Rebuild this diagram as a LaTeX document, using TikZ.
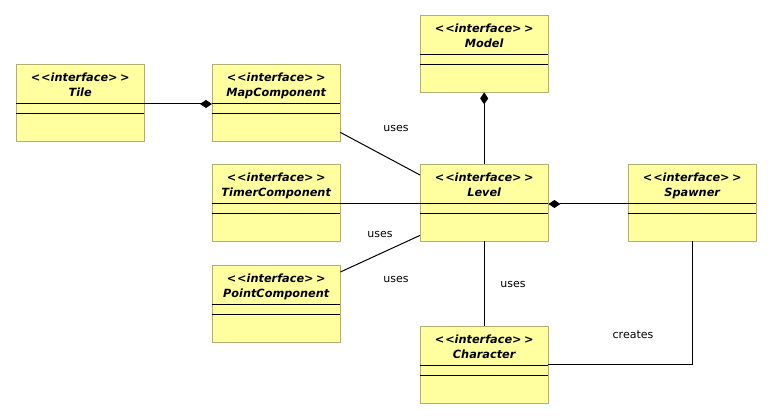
\documentclass[tikz,border=0pt]{standalone}
\usepackage{fontspec}
\setmainfont{DejaVu Sans}
\usetikzlibrary{positioning,arrows.meta}

\begin{document}
\begin{tikzpicture}[x=1pt,y=-1pt,
    box/.style={draw=umledge, fill=umlyellow, minimum width=128pt, minimum height=77pt,
                anchor=north west, inner sep=0pt},
    title/.style={align=center, inner sep=0pt, font=\fontsize{11.3}{15}\selectfont\bfseries\itshape},
    part/.style={black, line width=1pt},
    link/.style={black, line width=1pt},
    comp/.style={link, -{Diamond[length=12pt,width=8pt]}},
    note/.style={inner sep=0pt, font=\fontsize{11}{13}\selectfont}]
        % Define colors
        \definecolor{umlyellow}{RGB}{255,255,160}
        \definecolor{umledge}{RGB}{175,175,115}

        \useasboundingbox (0,0) rectangle (772,419);

        % --- TOP ROW ---
        \node[box] (tile) at (16,64) {};
        \node[title, below=9pt of tile.north] (tile-t) {<\kern1pt<interface>\kern2.5pt>\\Tile};
        \node[box] (map) at (212,64) {};
        \node[title, below=9pt of map.north] (map-t) {<\kern1pt<interface>\kern2.5pt>\\MapComponent};
        \node[box] (model) at (420,15) {};
        \node[title, below=9pt of model.north] (model-t) {<\kern1pt<interface>\kern2.5pt>\\Model};

        % --- MIDDLE ROW ---
        \node[box] (timer) at (212,164) {};
        \node[title, below=9pt of timer.north] (timer-t) {<\kern1pt<interface>\kern2.5pt>\\TimerComponent};
        \node[box] (level) at (420,164) {};
        \node[title, below=9pt of level.north] (level-t) {<\kern1pt<interface>\kern2.5pt>\\Level};
        \node[box] (spawner) at (628,164) {};
        \node[title, below=9pt of spawner.north] (spawner-t) {<\kern1pt<interface>\kern2.5pt>\\Spawner};

        % --- BOTTOM ROW ---
        \node[box] (point) at (212,265) {};
        \node[title, below=9pt of point.north] (point-t) {<\kern1pt<interface>\kern2.5pt>\\PointComponent};
        \node[box] (char) at (420,326) {};
        \node[title, below=9pt of char.north] (char-t) {<\kern1pt<interface>\kern2.5pt>\\Character};

        % Compartment lines
        \foreach \b in {tile,map,model,timer,level,spawner,point,char} {
            \draw[part] ([yshift=-40pt]\b.north west) -- ([yshift=-40pt]\b.north east);
            \draw[part] ([yshift=-50pt]\b.north west) -- ([yshift=-50pt]\b.north east);
        }

        % Connectors
        \draw[comp] ([yshift=-40pt]tile.north east) -- ([yshift=-40pt]map.north west);
        \draw[comp] (level.north) -- (model.south);
        \draw[comp] ([yshift=-40pt]spawner.north west) -- ([yshift=-40pt]level.north east);
        \draw[link] ([yshift=9pt]map.south east) -- ([yshift=-11pt]level.north west);
        \draw[link] ([yshift=-40pt]timer.north east) -- ([yshift=-40pt]level.north west);
        \draw[link] ([yshift=-7pt]point.north east) -- ([yshift=6pt]level.south west);
        \draw[link] (level.south) -- (char.north);
        \draw[link] (spawner.south) |- (char.east);

        % Labels
        \node[note] (uses-map) at (396,129) {uses};
        \node[note] (uses-timer) at (380,235) {uses};
        \node[note] (uses-point) at (396,279) {uses};
        \node[note] (uses-char) at (513,285) {uses};
        \node[note] (creates) at (633,335) {creates};
    \end{tikzpicture}
\end{document}
